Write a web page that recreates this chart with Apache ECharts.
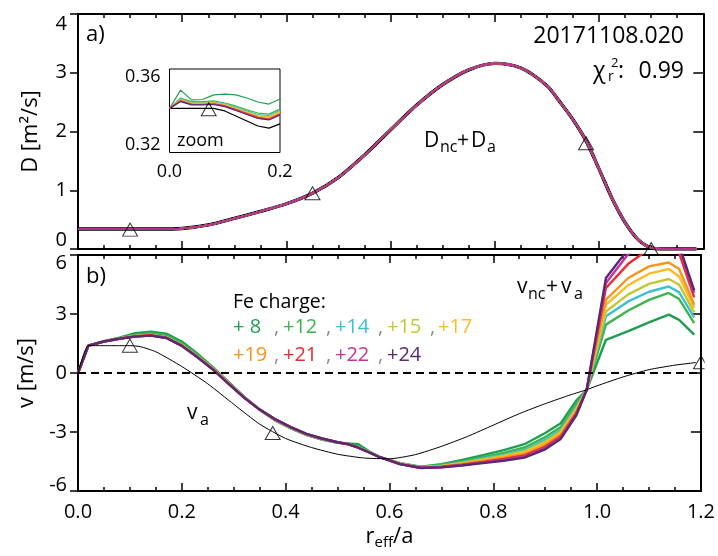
<!DOCTYPE html>
<html>
<head>
<meta charset="utf-8">
<script src="https://cdn.jsdelivr.net/npm/echarts@6/dist/echarts.min.js"></script>
<style>
  html, body { margin: 0; padding: 0; background: #fff; }
  #chart { width: 718px; height: 556px; }
</style>
</head>
<body>
<div id="chart"></div>
<script>
const FONT = "'Open Sans', 'Noto Sans', sans-serif";

// Fe charge states shown in the key, with their line colours
const CHARGE_LABELS = ['+ 8', '+12', '+14', '+15', '+17', '+19', '+21', '+22', '+24'];
const CHARGE_COLORS = ['#1f9e52', '#3db54a', '#3cbfd0', '#c0c935', '#fbbd27', '#f7941d', '#ee2b2e', '#c4339b', '#5a2a70'];

// (a) total diffusion coefficient D = D_nc + D_a  [m^2/s] vs r_eff/a
const R_D = [0, 0.05, 0.10, 0.15, 0.20, 0.25, 0.30, 0.35, 0.40, 0.45, 0.50, 0.55, 0.60, 0.65, 0.70, 0.75, 0.80, 0.85, 0.90, 0.925, 0.95, 0.975, 1.00, 1.025, 1.05, 1.075, 1.10, 1.125, 1.15, 1.187];
const D_TOTAL = [0.34, 0.34, 0.34, 0.34, 0.35, 0.41, 0.52, 0.64, 0.77, 0.95, 1.22, 1.60, 2.03, 2.45, 2.80, 3.05, 3.16, 3.08, 2.78, 2.50, 2.20, 1.84, 1.36, 0.86, 0.45, 0.16, 0.02, 0.0, 0.0, 0.0];
// spline knots of D_a
const D_KNOT_R = [0.10, 0.45, 0.975, 1.10];
const D_KNOT_V = [0.33, 0.95, 1.80, 0.0];

// inset: core region of D for every charge state
const R_ZOOM = [0, 0.02, 0.04, 0.06, 0.08, 0.10, 0.12, 0.14, 0.16, 0.18, 0.20];
const D_ZOOM_A   = [0.3411, 0.3411, 0.3411, 0.3411, 0.3411, 0.3399, 0.3375, 0.3351, 0.3327, 0.3317, 0.3337];
const D_ZOOM_Q8  = [0.3411, 0.3499, 0.3452, 0.3454, 0.3476, 0.3480, 0.3476, 0.3461, 0.3442, 0.3432, 0.3456];
const D_ZOOM_Q12 = [0.3411, 0.3461, 0.3444, 0.3444, 0.3447, 0.3437, 0.3423, 0.3404, 0.3389, 0.3384, 0.3408];
const D_ZOOM_Q14 = [0.3411, 0.3456, 0.3440, 0.3440, 0.3442, 0.3432, 0.3418, 0.3399, 0.3382, 0.3377, 0.3401];
const D_ZOOM_Q15 = [0.3411, 0.3454, 0.3437, 0.3437, 0.3440, 0.3430, 0.3413, 0.3394, 0.3377, 0.3372, 0.3396];
const D_ZOOM_Q17 = [0.3411, 0.3452, 0.3435, 0.3435, 0.3437, 0.3428, 0.3411, 0.3392, 0.3375, 0.3368, 0.3392];
const D_ZOOM_Q19 = [0.3411, 0.3449, 0.3432, 0.3432, 0.3435, 0.3425, 0.3408, 0.3389, 0.3370, 0.3363, 0.3387];
const D_ZOOM_Q21 = [0.3411, 0.3447, 0.3430, 0.3430, 0.3432, 0.3423, 0.3406, 0.3387, 0.3368, 0.3360, 0.3384];
const D_ZOOM_Q22 = [0.3411, 0.3447, 0.3430, 0.3430, 0.3432, 0.3423, 0.3404, 0.3384, 0.3365, 0.3358, 0.3382];
const D_ZOOM_Q24 = [0.3411, 0.3444, 0.3428, 0.3428, 0.3430, 0.3420, 0.3401, 0.3382, 0.3363, 0.3356, 0.3380];
const D_ZOOM_KNOT_R = [0.071];
const D_ZOOM_KNOT_V = [0.3407];

// (b) convective velocity v_nc + v_a [m/s] for every charge state
const R_V = [0, 0.02, 0.05, 0.08, 0.11, 0.14, 0.17, 0.20, 0.23, 0.26, 0.29, 0.32, 0.35, 0.38, 0.41, 0.44, 0.47, 0.50, 0.52, 0.54, 0.56, 0.58, 0.62, 0.66, 0.70, 0.74, 0.78, 0.82, 0.86, 0.90, 0.93, 0.96, 0.98, 1.017, 1.06, 1.10, 1.138, 1.158, 1.187];
const V_Q8  = [0, 1.39, 1.62, 1.80, 2.02, 2.10, 2.00, 1.60, 0.98, 0.30, -0.45, -1.20, -1.88, -2.42, -2.82, -3.16, -3.38, -3.55, -3.58, -3.62, -3.97, -4.25, -4.58, -4.76, -4.64, -4.42, -4.18, -3.92, -3.62, -3.05, -2.55, -1.40, -0.85, 1.69, 2.13, 2.57, 2.97, 2.70, 1.95];
const V_Q12 = [0, 1.39, 1.62, 1.78, 1.95, 2.02, 1.92, 1.52, 0.92, 0.26, -0.49, -1.22, -1.87, -2.40, -2.80, -3.14, -3.37, -3.54, -3.61, -3.74, -4.00, -4.26, -4.59, -4.78, -4.68, -4.49, -4.28, -4.06, -3.79, -3.26, -2.75, -1.59, -0.85, 2.46, 3.18, 3.72, 4.07, 3.76, 2.54];
const V_Q14 = [0, 1.39, 1.61, 1.76, 1.89, 1.94, 1.83, 1.43, 0.85, 0.24, -0.50, -1.23, -1.87, -2.39, -2.79, -3.13, -3.36, -3.54, -3.62, -3.77, -4.01, -4.26, -4.60, -4.79, -4.71, -4.54, -4.35, -4.15, -3.91, -3.40, -2.89, -1.72, -0.85, 2.88, 3.64, 4.13, 4.40, 4.10, 2.83];
const V_Q15 = [0, 1.39, 1.61, 1.76, 1.88, 1.93, 1.82, 1.42, 0.84, 0.23, -0.51, -1.23, -1.87, -2.38, -2.78, -3.12, -3.35, -3.53, -3.62, -3.78, -4.02, -4.27, -4.61, -4.80, -4.72, -4.57, -4.39, -4.21, -3.98, -3.49, -2.97, -1.80, -0.85, 3.13, 4.00, 4.53, 4.78, 4.49, 3.08];
const V_Q17 = [0, 1.39, 1.61, 1.75, 1.87, 1.92, 1.81, 1.41, 0.83, 0.22, -0.52, -1.24, -1.86, -2.37, -2.77, -3.12, -3.35, -3.53, -3.62, -3.79, -4.02, -4.27, -4.61, -4.80, -4.74, -4.60, -4.43, -4.26, -4.05, -3.57, -3.05, -1.87, -0.85, 3.47, 4.47, 5.05, 5.29, 4.91, 3.30];
const V_Q19 = [0, 1.39, 1.61, 1.75, 1.87, 1.92, 1.80, 1.40, 0.82, 0.21, -0.53, -1.24, -1.86, -2.37, -2.77, -3.11, -3.34, -3.53, -3.62, -3.79, -4.03, -4.27, -4.62, -4.81, -4.76, -4.62, -4.47, -4.31, -4.12, -3.66, -3.13, -1.95, -0.85, 3.73, 4.83, 5.42, 5.62, 5.29, 3.47];
const V_Q21 = [0, 1.39, 1.60, 1.75, 1.86, 1.91, 1.79, 1.39, 0.81, 0.19, -0.54, -1.25, -1.86, -2.36, -2.76, -3.11, -3.34, -3.52, -3.62, -3.80, -4.03, -4.27, -4.62, -4.82, -4.77, -4.66, -4.52, -4.37, -4.19, -3.75, -3.22, -2.03, -0.85, 4.32, 5.55, 6.30, 6.55, 6.10, 3.84];
const V_Q22 = [0, 1.39, 1.60, 1.74, 1.86, 1.91, 1.79, 1.39, 0.81, 0.18, -0.54, -1.25, -1.86, -2.36, -2.75, -3.10, -3.33, -3.52, -3.62, -3.80, -4.03, -4.27, -4.63, -4.82, -4.79, -4.68, -4.55, -4.42, -4.25, -3.81, -3.29, -2.09, -0.85, 4.58, 6.05, 6.80, 7.00, 6.40, 4.07];
const V_Q24 = [0, 1.39, 1.60, 1.74, 1.85, 1.90, 1.78, 1.38, 0.80, 0.17, -0.55, -1.25, -1.86, -2.35, -2.75, -3.10, -3.33, -3.52, -3.62, -3.80, -4.03, -4.27, -4.63, -4.83, -4.80, -4.70, -4.58, -4.46, -4.30, -3.88, -3.35, -2.15, -0.85, 4.83, 6.30, 7.20, 7.50, 6.50, 4.20];

// anomalous part v_a alone
const R_VA = [0, 0.02, 0.05, 0.08, 0.10, 0.12, 0.15, 0.20, 0.25, 0.30, 0.35, 0.40, 0.45, 0.50, 0.55, 0.60, 0.65, 0.70, 0.75, 0.80, 0.85, 0.90, 0.95, 0.98, 1.00, 1.05, 1.10, 1.15, 1.19];
const V_A  = [0, 1.39, 1.39, 1.39, 1.39, 1.34, 1.08, 0.33, -0.55, -1.59, -2.60, -3.33, -3.79, -4.13, -4.32, -4.36, -4.15, -3.73, -3.23, -2.65, -2.07, -1.56, -1.10, -0.85, -0.65, -0.20, 0.17, 0.40, 0.53];
const V_KNOT_R = [0.10, 0.375, 1.20];
const V_KNOT_V = [1.39, -3.05, 0.55];

const D_ZOOM = [D_ZOOM_Q8, D_ZOOM_Q12, D_ZOOM_Q14, D_ZOOM_Q15, D_ZOOM_Q17, D_ZOOM_Q19, D_ZOOM_Q21, D_ZOOM_Q22, D_ZOOM_Q24];
const V_CHARGE = [V_Q8, V_Q12, V_Q14, V_Q15, V_Q17, V_Q19, V_Q21, V_Q22, V_Q24];

const pts = (xs, ys) => xs.map((x, i) => [x, ys[i]]);

const chart = echarts.init(document.getElementById('chart'), null, { renderer: 'canvas' });

function xAxisFor(grid, pos, labels, extra) {
  return Object.assign({
    type: 'value', gridIndex: grid, position: pos, min: 0, max: 1.2, interval: 0.2,
    axisLine: { show: true, onZero: false, lineStyle: { color: '#000', width: 2 } },
    axisTick: { show: true, inside: true, length: 8, lineStyle: { color: '#000', width: 1.5 } },
    minorTick: { show: true, splitNumber: 4, length: 4, lineStyle: { color: '#000', width: 1.5 } },
    splitLine: { show: false },
    axisLabel: { show: labels, color: '#000', fontFamily: FONT, fontSize: 20, margin: 11,
      formatter: v => v.toFixed(1) }
  }, extra || {});
}

function edgeRich(shiftTop, shiftBottom) {
  return {
    top: { fontFamily: FONT, fontSize: 20, color: '#000', padding: [2 * shiftTop, 0, 0, 0] },
    bot: { fontFamily: FONT, fontSize: 20, color: '#000', padding: [0, 0, 2 * shiftBottom, 0] }
  };
}

function yLeft(grid, min, max, interval, name, shiftTop, shiftBottom, nameGap) {
  return {
    type: 'value', gridIndex: grid, position: 'left', min: min, max: max, interval: interval,
    name: name, nameLocation: 'middle', nameGap: nameGap,
    nameTextStyle: { fontFamily: FONT, fontSize: 22, color: '#000' },
    axisLine: { show: true, onZero: false, lineStyle: { color: '#000', width: 2 } },
    axisTick: { show: true, inside: false, length: 8, lineStyle: { color: '#000', width: 1.5 } },
    splitLine: { show: false },
    axisLabel: {
      color: '#000', fontFamily: FONT, fontSize: 20, margin: 11,
      formatter: v => v === max ? '{top|' + v + '}' : (v === min ? '{bot|' + v + '}' : String(v)),
      rich: edgeRich(shiftTop, shiftBottom)
    }
  };
}

function yRight(grid, min, max, interval) {
  return {
    type: 'value', gridIndex: grid, position: 'right', min: min, max: max, interval: interval,
    axisLine: { show: true, onZero: false, lineStyle: { color: '#000', width: 2 } },
    axisTick: { show: true, inside: true, length: 10, lineStyle: { color: '#000', width: 1.5 } },
    splitLine: { show: false },
    axisLabel: { show: false }
  };
}

const series = [];

// (a) D_a reference (black) under the per-charge totals
series.push({
  type: 'line', xAxisIndex: 0, yAxisIndex: 0, data: pts(R_D, D_TOTAL),
  smooth: 0.3, showSymbol: false, silent: true,
  lineStyle: { color: '#000', width: 3.4 }
});
[0, 1, 2, 3, 4, 5, 6, 8, 7].forEach(k => {
  series.push({
    type: 'line', xAxisIndex: 0, yAxisIndex: 0, data: pts(R_D, D_TOTAL),
    smooth: 0.3, showSymbol: false, silent: true,
    lineStyle: { color: CHARGE_COLORS[k], width: 1.6 }
  });
});
series.push({
  type: 'scatter', xAxisIndex: 0, yAxisIndex: 0, data: pts(D_KNOT_R, D_KNOT_V),
  symbol: 'triangle', symbolSize: [15, 13], silent: true, z: 5,
  itemStyle: { color: 'rgba(0,0,0,0)', borderColor: '#000', borderWidth: 1 }
});

// inset: D near the axis
series.push({
  type: 'line', xAxisIndex: 4, yAxisIndex: 4, data: pts(R_ZOOM, D_ZOOM_A),
  showSymbol: false, silent: true, lineStyle: { color: '#000', width: 1.2 }
});
D_ZOOM.forEach((arr, k) => {
  series.push({
    type: 'line', xAxisIndex: 4, yAxisIndex: 4, data: pts(R_ZOOM, arr),
    showSymbol: false, silent: true, lineStyle: { color: CHARGE_COLORS[k], width: 1.2 }
  });
});
series.push({
  type: 'scatter', xAxisIndex: 4, yAxisIndex: 4, data: pts(D_ZOOM_KNOT_R, D_ZOOM_KNOT_V),
  symbol: 'triangle', symbolSize: [15, 13], silent: true, z: 5,
  itemStyle: { color: 'rgba(0,0,0,0)', borderColor: '#000', borderWidth: 1 }
});

// (b) v_nc + v_a for each charge state
V_CHARGE.forEach((arr, k) => {
  series.push({
    type: 'line', xAxisIndex: 2, yAxisIndex: 2, data: pts(R_V, arr),
    showSymbol: false, silent: true, lineStyle: { color: CHARGE_COLORS[k], width: 2.4 }
  });
});
// v_a alone, with the zero reference
series.push({
  type: 'line', xAxisIndex: 2, yAxisIndex: 2, data: pts(R_VA, V_A),
  smooth: 0.2, showSymbol: false, silent: true, lineStyle: { color: '#000', width: 1 },
  markLine: {
    silent: true, symbol: 'none', label: { show: false },
    lineStyle: { color: '#000', width: 2, type: [8, 5] },
    data: [{ yAxis: 0 }]
  }
});
series.push({
  type: 'scatter', xAxisIndex: 2, yAxisIndex: 2, data: pts(V_KNOT_R, V_KNOT_V),
  symbol: 'triangle', symbolSize: [15, 13], silent: true, z: 5,
  itemStyle: { color: 'rgba(0,0,0,0)', borderColor: '#000', borderWidth: 1 }
});

function T(text, x, y, size, opt) {
  opt = opt || {};
  const align = opt.align || 'left';
  return {
    type: 'text', x: x, y: y, z: 100, silent: true,
    style: {
      text: text, fill: opt.fill || '#000', font: size + 'px ' + FONT,
      textAlign: align, align: align, textVerticalAlign: 'middle', verticalAlign: 'middle'
    }
  };
}

const graphics = [
  // clip the edge marker at the right frame of panel b
  { type: 'rect', shape: { x: 704.6, y: 256, width: 14, height: 234 }, style: { fill: '#fff' }, z: 90, silent: true },
  T('a)', 86, 35, 22),
  T('b)', 86, 277, 22),
  T('20171108.020', 684, 36, 23, { align: 'right' }),
  T('\u03c7', 593, 71, 23),
  T('r', 608, 77, 14),
  T('2', 611, 63, 13),
  T(':', 618, 71, 23),
  T('0.99', 684, 71, 23, { align: 'right' }),
  T('D', 424, 141, 21), T('nc', 440, 147.5, 16), T('+', 457, 141, 21), T('D', 471, 141, 21), T('a', 487, 147.5, 16),
  T('v', 517, 287, 21), T('nc', 528, 294, 16), T('+', 546, 287, 21), T('v', 561, 287, 21), T('a', 574, 294, 16),
  T('v', 187, 413.5, 21), T('a', 200, 420.5, 16),
  T('zoom', 177, 141, 18),
  T('Fe charge:', 233, 302.5, 19.5)
];
const ROW_Y = [327.5, 355.5];
const TOKEN_X = [233, 283, 335, 387, 438];
const COMMA_X = [274, 326, 378, 430];
CHARGE_LABELS.forEach((lab, k) => {
  const row = k < 5 ? 0 : 1;
  const col = k < 5 ? k : k - 5;
  graphics.push(T(lab, TOKEN_X[col], ROW_Y[row], 20, { fill: CHARGE_COLORS[k] }));
  const last = row === 0 ? 4 : 3;
  if (col < last) graphics.push(T(',', COMMA_X[col], ROW_Y[row], 20, { fill: '#8c8c8c' }));
});

const option = {
  animation: false,
  backgroundColor: '#fff',
  grid: [
    { left: 78, top: 14, width: 625.3, height: 235 },
    { left: 78, top: 255, width: 625.3, height: 236 },
    { left: 169.5, top: 69, width: 110.5, height: 83.5, show: true, borderColor: '#000', borderWidth: 1, backgroundColor: '#fff' }
  ],
  xAxis: [
    xAxisFor(0, 'bottom', false),
    xAxisFor(0, 'top', false),
    xAxisFor(1, 'bottom', true, {
      name: 'r{sub|eff}/a', nameLocation: 'middle', nameGap: 33,
      nameTextStyle: { fontFamily: FONT, fontSize: 22, color: '#000', lineHeight: 26,
        rich: { sub: { fontFamily: FONT, fontSize: 15, color: '#000', lineHeight: 15, verticalAlign: 'bottom' } } }
    }),
    xAxisFor(1, 'top', false),
    {
      type: 'value', gridIndex: 2, min: 0, max: 0.2, interval: 0.2,
      axisLine: { show: false, onZero: false }, axisTick: { show: false }, splitLine: { show: false },
      axisLabel: { color: '#000', fontFamily: FONT, fontSize: 18, margin: 10, formatter: v => v.toFixed(1) }
    }
  ],
  yAxis: [
    yLeft(0, 0, 4, 1, 'D [m\u00b2/s]', 10, 9, 36),
    yRight(0, 0, 4, 1),
    yLeft(1, -6, 6, 3, 'v [m/s]', 8, 6, 36),
    yRight(1, -6, 6, 3),
    {
      type: 'value', gridIndex: 2, min: 0.32, max: 0.36, interval: 0.04,
      axisLine: { show: false, onZero: false }, axisTick: { show: false }, splitLine: { show: false },
      axisLabel: {
        color: '#000', fontFamily: FONT, fontSize: 18, margin: 9,
        formatter: v => v > 0.34 ? '{top|0.36}' : '{bot|0.32}',
        rich: {
          top: { fontFamily: FONT, fontSize: 18, color: '#000', padding: [16, 0, 0, 0] },
          bot: { fontFamily: FONT, fontSize: 18, color: '#000', padding: [0, 0, 15, 0] }
        }
      }
    }
  ],
  series: series,
  graphic: graphics
};

chart.setOption(option);
</script>
</body>
</html>
